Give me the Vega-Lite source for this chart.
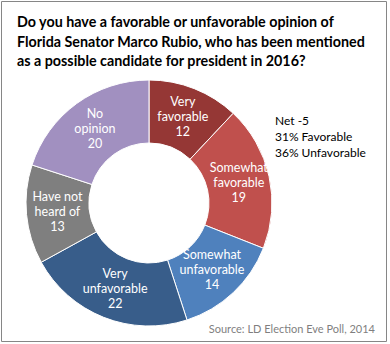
{
  "$schema": "https://vega.github.io/schema/vega-lite/v6.json",
  "width": 390,
  "height": 344,
  "autosize": {"type": "fit", "contains": "padding"},
  "padding": {"left": 1, "top": 1, "right": 3, "bottom": 2},
  "background": "white",
  "config": {"view": {"stroke": null}, "font": "Lato"},
  "layer": [
    {
      "data": {"values": [{}]},
      "mark": {"type": "rect", "x": 0.5, "y": 0.5, "x2": {"expr": "width-0.5"}, "y2": {"expr": "height-0.5"}, "fill": null, "stroke": "#868686", "strokeWidth": 1},
      "encoding": {}
    },
    {
      "data": {"name": "poll", "values": [
        {"k": 1, "cat": "Very favorable", "label": "Very\nfavorable\n12", "v": 12},
        {"k": 2, "cat": "Somewhat favorable", "label": "Somewhat\nfavorable\n19", "v": 19},
        {"k": 3, "cat": "Somewhat unfavorable", "label": "Somewhat\nunfavorable\n14", "v": 14},
        {"k": 4, "cat": "Very unfavorable", "label": "Very\nunfavorable\n22", "v": 22},
        {"k": 5, "cat": "Have not heard of", "label": "Have not\nheard of\n13", "v": 13},
        {"k": 6, "cat": "No opinion", "label": "No\nopinion\n20", "v": 20}
      ]},
      "layer": [
        {
          "mark": {"type": "arc", "x": 148, "y": 202, "outerRadius": 123, "innerRadius": 60, "stroke": "white", "strokeWidth": 1},
          "encoding": {
            "theta": {"field": "v", "type": "quantitative", "stack": true},
            "order": {"field": "k", "type": "quantitative"},
            "color": {"field": "cat", "type": "nominal", "legend": null,
              "scale": {"domain": ["Very favorable", "Somewhat favorable", "Somewhat unfavorable", "Very unfavorable", "Have not heard of", "No opinion"],
                "range": ["#953735", "#C0504D", "#4F81BD", "#385D8A", "#7F7F7F", "#A190C0"]}}
          }
        },
        {
          "mark": {"type": "text", "x": 148, "y": 202, "radius": 92, "dy": -15, "color": "white", "fontSize": 12.5, "lineBreak": "\n", "lineHeight": 15, "align": "center", "baseline": "middle"},
          "encoding": {
            "theta": {"field": "v", "type": "quantitative", "stack": true},
            "order": {"field": "k", "type": "quantitative"},
            "text": {"field": "label", "type": "nominal"}
          }
        }
      ]
    },
    {
      "data": {"values": [{"t": "Do you have a favorable or unfavorable opinion of\nFlorida Senator Marco Rubio, who has been mentioned\nas a possible candidate for president in 2016?"}]},
      "mark": {"type": "text", "x": 16, "y": 26, "align": "left", "baseline": "alphabetic", "fontSize": 14.3, "fontWeight": "bold", "color": "black", "lineBreak": "\n", "lineHeight": 19.7},
      "encoding": {"text": {"field": "t", "type": "nominal"}}
    },
    {
      "data": {"values": [{"t": "Net -5\n31%  Favorable\n36%  Unfavorable"}]},
      "mark": {"type": "text", "x": 274, "y": 124, "align": "left", "baseline": "alphabetic", "fontSize": 12, "color": "black", "lineBreak": "\n", "lineHeight": 16},
      "encoding": {"text": {"field": "t", "type": "nominal"}}
    },
    {
      "data": {"values": [{"t": "Source: LD Election Eve Poll, 2014"}]},
      "mark": {"type": "text", "x": 374, "y": 332, "align": "right", "baseline": "alphabetic", "fontSize": 11, "color": "#7F7F7F"},
      "encoding": {"text": {"field": "t", "type": "nominal"}}
    }
  ]
}
